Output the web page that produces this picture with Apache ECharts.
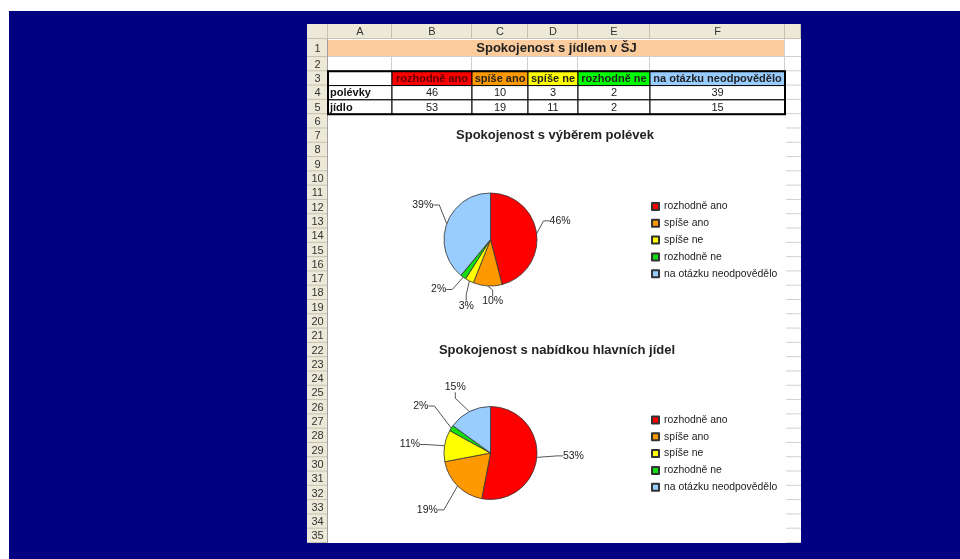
<!DOCTYPE html>
<html>
<head>
<meta charset="utf-8">
<script src="https://cdn.jsdelivr.net/npm/echarts@6/dist/echarts.min.js"></script>
<style>html,body{margin:0;padding:0;background:#fff}#c{width:960px;height:559px}</style>
</head>
<body>
<div id="c"></div>
<script>
// ---- data ----
const sheetTitle = 'Spokojenost s jídlem v ŠJ';
const categories = ['rozhodně ano', 'spíše ano', 'spíše ne', 'rozhodně ne', 'na otázku neodpovědělo'];
const rowLabels = ['polévky', 'jídlo'];
const soups = [46, 10, 3, 2, 39];
const mains = [53, 19, 11, 2, 15];
const chartTitles = ['Spokojenost s výběrem polévek', 'Spokojenost s nabídkou hlavních jídel'];
const colLetters = ['A', 'B', 'C', 'D', 'E', 'F', ''];
const rowCount = 35;

// ---- style / layout ----
const FONT = '"Liberation Sans", Arial, sans-serif';
const palette = ['#ff0000', '#ff9900', '#ffff00', '#11dd11', '#99ccff'];
const headerFill = ['#ff0000', '#ff9900', '#ffff00', '#00ff00', '#99ccff'];
const headerText = ['#5a0000', '#222', '#222', '#222', '#222'];
const colEdges = [328, 392, 472, 528, 578, 650, 785, 801];
const colWidths = [64, 80, 56, 50, 72, 135];
const sheet = {left: 307, top: 24, right: 801, bottom: 543};
const hdrBottom = 39, row1Bottom = 57, rowH = (543 - 57) / 34;
function rowTop(r) { return r === 1 ? hdrBottom : row1Bottom + (r - 2) * rowH; }
function rowBottom(r) { return r === 1 ? row1Bottom : row1Bottom + (r - 1) * rowH; }
const pieCenters = [[490.5, 239.5], [490.5, 453]];
const pieRadius = 46.5;
// label placement around each pie: [angle from 12 o'clock (deg, clockwise), distance from centre]
const labelPolar = [
  [[75, 72], [178, 62], [200, 71], [226, 72], [297, 76]],
  [[92, 83], [228, 85], [276, 81], [304, 84], [332, 75]]
];

const gridColor = '#d0d0d0';
const hdrBg = '#ece9d8';
const hdrLine = '#c5c2b2';

const g = [];
// white margins + sheet
g.push({type: 'rect', shape: {x: 0, y: 0, width: 960, height: 11}, style: {fill: '#fff'}, z: 0});
g.push({type: 'rect', shape: {x: 0, y: 0, width: 9, height: 559}, style: {fill: '#fff'}, z: 0});
g.push({type: 'rect', shape: {x: sheet.left, y: sheet.top, width: sheet.right - sheet.left, height: sheet.bottom - sheet.top}, style: {fill: '#fff'}, z: 0});
// column header
g.push({type: 'rect', shape: {x: sheet.left, y: sheet.top, width: sheet.right - sheet.left, height: hdrBottom - sheet.top}, style: {fill: hdrBg}, z: 0});
g.push({type: 'rect', shape: {x: sheet.left, y: sheet.top, width: colEdges[0] - sheet.left, height: sheet.bottom - sheet.top}, style: {fill: hdrBg}, z: 0});
for (let i = 0; i < colEdges.length; i++) {
  g.push({type: 'line', shape: {x1: colEdges[i] - 0.5, y1: sheet.top, x2: colEdges[i] - 0.5, y2: hdrBottom}, style: {stroke: hdrLine, lineWidth: 1}, z: 1});
  if (i < colEdges.length - 1 && colLetters[i]) {
    g.push({type: 'text', style: {text: colLetters[i], x: (colEdges[i] + colEdges[i + 1]) / 2, y: (sheet.top + hdrBottom) / 2 + 0.5, align: 'center', verticalAlign: 'middle', font: '11px ' + FONT, fill: '#333'}, z: 1});
  }
}
g.push({type: 'line', shape: {x1: sheet.left, y1: hdrBottom - 0.5, x2: sheet.right, y2: hdrBottom - 0.5}, style: {stroke: hdrLine}, z: 1});
// row header + grid lines
for (let r = 1; r <= rowCount; r++) {
  const t = rowTop(r), b = rowBottom(r);
  g.push({type: 'line', shape: {x1: sheet.left, y1: b - 0.5, x2: colEdges[0], y2: b - 0.5}, style: {stroke: hdrLine}, z: 1});
  g.push({type: 'text', style: {text: String(r), x: (sheet.left + colEdges[0]) / 2, y: (t + b) / 2 + 0.5, align: 'center', verticalAlign: 'middle', font: '11px ' + FONT, fill: '#333'}, z: 1});
  if (r <= 5) {
    g.push({type: 'line', shape: {x1: colEdges[0], y1: b - 0.5, x2: sheet.right, y2: b - 0.5}, style: {stroke: gridColor}, z: 1});
    for (let i = 1; i < colEdges.length - 1; i++) {
      if (r === 1 && i < colEdges.length - 2) continue;
      g.push({type: 'line', shape: {x1: colEdges[i] - 0.5, y1: t, x2: colEdges[i] - 0.5, y2: b}, style: {stroke: gridColor}, z: 1});
    }
  } else {
    g.push({type: 'line', shape: {x1: colEdges[6] + 1, y1: b - 0.5, x2: sheet.right, y2: b - 0.5}, style: {stroke: gridColor}, z: 1});
  }
}
g.push({type: 'line', shape: {x1: colEdges[0] - 0.5, y1: hdrBottom, x2: colEdges[0] - 0.5, y2: sheet.bottom}, style: {stroke: '#a0a0a0'}, z: 1});
// merged title row
g.push({type: 'rect', shape: {x: colEdges[0], y: rowTop(1) + 1, width: colEdges[6] - colEdges[0] - 1, height: rowBottom(1) - rowTop(1) - 2}, style: {fill: '#fccc9c'}, z: 2});
g.push({type: 'text', style: {text: sheetTitle, x: (colEdges[0] + colEdges[6]) / 2, y: (rowTop(1) + rowBottom(1)) / 2 + 0.5, align: 'center', verticalAlign: 'middle', font: 'bold 13px ' + FONT, fill: '#222'}, z: 2});
// table outer border
g.push({type: 'rect', shape: {x: colEdges[0], y: rowTop(3), width: colEdges[6] - colEdges[0], height: rowBottom(5) - rowTop(3)}, style: {fill: null, stroke: '#000', lineWidth: 2}, z: 50});

// table cells built from data
const xStarts = [0];
colWidths.forEach((w, i) => xStarts.push(xStarts[i] + w));
const cells = [];
cells.push({value: [xStarts[0], xStarts[1], 0], text: '', bg: '#fff', color: '#222', bold: true, align: 'left'});
categories.forEach((c, i) => cells.push({value: [xStarts[i + 1], xStarts[i + 2], 0], text: c, bg: headerFill[i], color: headerText[i], bold: true, align: 'center'}));
[soups, mains].forEach((arr, r) => {
  cells.push({value: [xStarts[0], xStarts[1], r + 1], text: rowLabels[r], bg: '#fff', color: '#111', bold: true, align: 'left'});
  arr.forEach((v, i) => cells.push({value: [xStarts[i + 1], xStarts[i + 2], r + 1], text: String(v), bg: '#fff', color: '#222', bold: false, align: 'center'}));
});

const option = {
  backgroundColor: '#000080',
  animation: false,
  graphic: {elements: g},
  title: [
    {text: chartTitles[0], left: 555, top: 129, padding: 0, textAlign: 'center', textStyle: {fontSize: 13, fontWeight: 'bold', color: '#222', fontFamily: FONT}},
    {text: chartTitles[1], left: 557, top: 344, padding: 0, textAlign: 'center', textStyle: {fontSize: 13, fontWeight: 'bold', color: '#222', fontFamily: FONT}}
  ],
  legend: [0, 1].map(k => ({
    orient: 'vertical', left: 651, top: k === 0 ? 200.5 : 414, padding: 0,
    data: categories, icon: 'rect', itemWidth: 7, itemHeight: 7, itemGap: 4.8,
    selectedMode: false,
    textStyle: {fontSize: 10.4, color: '#222', fontFamily: FONT, lineHeight: 12}
  })),
  grid: {left: colEdges[0], top: rowTop(3), width: colEdges[6] - colEdges[0], height: rowBottom(5) - rowTop(3)},
  xAxis: {type: 'value', min: 0, max: xStarts[xStarts.length - 1], show: false},
  yAxis: {type: 'value', min: 0, max: 3, inverse: true, show: false},
  series: [
    {
      type: 'custom', coordinateSystem: 'cartesian2d', silent: true,
      data: cells.map(c => ({value: c.value})),
      renderItem(params, api) {
        const c = cells[params.dataIndex];
        const p0 = api.coord([api.value(0), api.value(2)]);
        const p1 = api.coord([api.value(1), api.value(2) + 1]);
        return {type: 'group', children: [
          {type: 'rect', shape: {x: p0[0], y: p0[1], width: p1[0] - p0[0], height: p1[1] - p0[1]}, style: {fill: c.bg, stroke: '#000', lineWidth: 1}},
          {type: 'text', style: {text: c.text, x: c.align === 'left' ? p0[0] + 2 : (p0[0] + p1[0]) / 2, y: (p0[1] + p1[1]) / 2 + 0.5, align: c.align, verticalAlign: 'middle', font: (c.bold ? 'bold ' : '') + '11px ' + FONT, fill: c.color}}
        ]};
      }
    },
    ...[soups, mains].map((arr, k) => ({
      type: 'pie', name: chartTitles[k],
      center: pieCenters[k], radius: pieRadius,
      startAngle: 90, clockwise: true, percentPrecision: 0,
      avoidLabelOverlap: false,
      data: categories.map((c, i) => ({name: c, value: arr[i], itemStyle: {color: palette[i]}})),
      itemStyle: {borderColor: '#333', borderWidth: 0.8},
      label: {show: true, position: 'outside', formatter: '{d}%', fontSize: 10.5, color: '#222', fontFamily: FONT},
      labelLine: {show: true, length: 8, length2: 6, lineStyle: {color: '#555', width: 1}},
      labelLayout(p) {
        const pl = labelPolar[k][p.dataIndex];
        const a = pl[0] * Math.PI / 180;
        return {
          x: pieCenters[k][0] + pl[1] * Math.sin(a),
          y: pieCenters[k][1] - pl[1] * Math.cos(a),
          align: 'center', verticalAlign: 'middle'
        };
      },
      emphasis: {disabled: true}
    }))
  ]
};
const chart = echarts.init(document.getElementById('c'), null, {renderer: 'canvas'});
chart.setOption(option);
</script>
</body>
</html>
